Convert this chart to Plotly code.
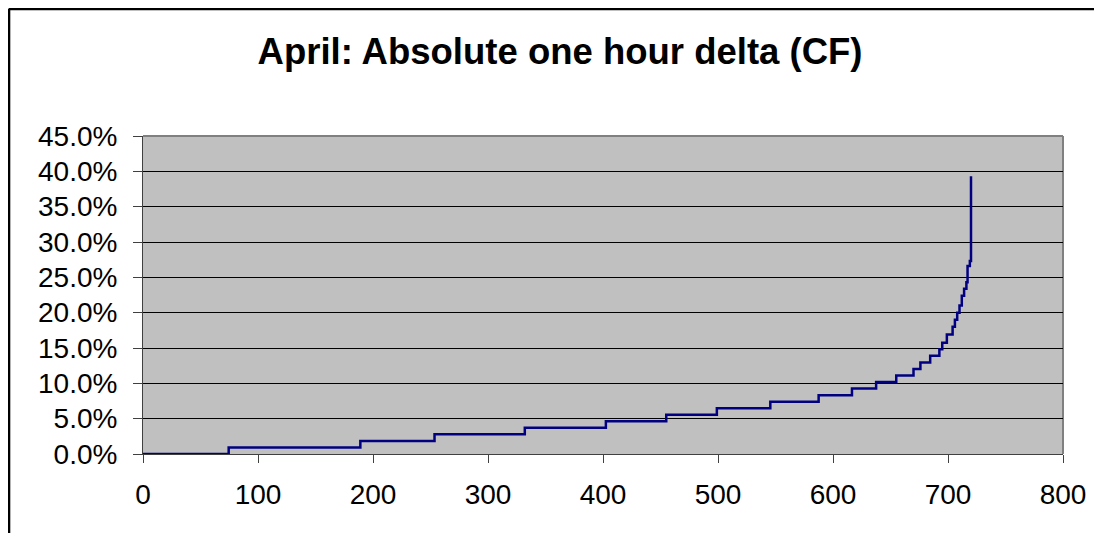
import plotly.graph_objects as go

# Sorted absolute one-hour deltas (April): hour index where each level starts, and level (%)
hour = [0, 74.5, 189, 253.5, 332, 402.5, 455, 499, 545.5, 587.5, 616.5, 637.5, 655, 670, 676,
        684.5, 692.5, 695, 699, 704, 706, 708, 710, 712, 714, 716, 717, 719, 720]
delta_pct = [0, 0.93, 1.85, 2.78, 3.70, 4.63, 5.56, 6.48, 7.41, 8.33, 9.26, 10.19, 11.11, 12.04, 12.96,
             13.89, 14.81, 15.74, 16.9, 18.0, 19.0, 20.0, 21.0, 22.4, 23.4, 24.3, 26.6, 27.3, 39.3]

x_ticks = [0, 100, 200, 300, 400, 500, 600, 700, 800]
y_ticks = [0, 0.05, 0.10, 0.15, 0.20, 0.25, 0.30, 0.35, 0.40, 0.45]

title_text = "April: Absolute one hour delta (CF)"

# the page body has an 8px margin on every side: keep the figure inside the window
OFF = 8
W, H = 1102 - 2 * OFF, 541 - 2 * OFF
L, R, T, B = 143 - OFF, 39 - OFF, 136 - OFF, 87 - OFF
pw, ph = W - L - R, H - T - B

fig = go.Figure()
fig.add_trace(go.Scatter(
    x=hour, y=[v / 100 for v in delta_pct],
    mode="lines", line=dict(color="#000080", width=2.5, shape="hv"),
    showlegend=False, hoverinfo="x+y",
))

# outer chart frame: only its left and top edges fall inside the picture
fx0 = (0.8 - L) / pw
fy1 = (H - B - 0.8) / ph
fig.add_shape(type="line", xref="paper", yref="paper",
              x0=fx0, x1=fx0, y0=-B / ph, y1=fy1,
              line=dict(color="black", width=3), layer="below")
fig.add_shape(type="line", xref="paper", yref="paper",
              x0=fx0, x1=(W - L) / pw, y0=fy1, y1=fy1,
              line=dict(color="black", width=3), layer="below")

fig.update_layout(
    width=W, height=H,
    margin=dict(l=L, r=R, t=T, b=B, pad=0, autoexpand=False),
    paper_bgcolor="white", plot_bgcolor="#c0c0c0",
    font=dict(family="Liberation Sans, Arial, sans-serif", color="black", size=28),
    title=dict(text="<b>" + title_text + "</b>", x=(560 - OFF) / W, xanchor="center",
               y=1 - (51 - OFF) / H, yanchor="middle", yref="container",
               font=dict(size=36.5, family="Liberation Sans, Arial, sans-serif", color="black")),
    xaxis=dict(range=[0, 800], tickmode="array", tickvals=x_ticks, ticktext=[str(v) for v in x_ticks],
               showgrid=False, zeroline=False, showline=True, linecolor="#404040", linewidth=1,
               ticks="outside", ticklen=8, tickcolor="#404040", layer="below traces",
               ticklabelstandoff=7, tickfont=dict(size=28)),
    yaxis=dict(range=[0, 0.45], tickmode="array", tickvals=y_ticks,
               ticktext=[f"{v*100:.1f}%" for v in y_ticks],
               showgrid=True, gridcolor="black", gridwidth=1, zeroline=False,
               showline=True, linecolor="#404040", linewidth=1, layer="below traces",
               ticks="outside", ticklen=9, tickcolor="#404040",
               ticklabelstandoff=10, tickfont=dict(size=28)),
)
# gray plot-area border on top and right
fig.add_shape(type="line", xref="paper", yref="paper", x0=0, x1=1, y0=1, y1=1,
              line=dict(color="#808080", width=2), layer="below")
fig.add_shape(type="line", xref="paper", yref="paper", x0=1, x1=1, y0=0, y1=1,
              line=dict(color="#808080", width=2), layer="below")

fig.write_html("out.html")
